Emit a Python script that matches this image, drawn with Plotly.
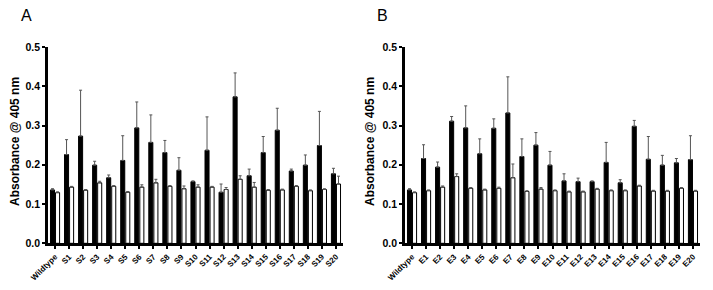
import plotly.graph_objects as go

cats_a = ["Wildtype"] + [f"S{i}" for i in range(1, 21)]
cats_b = ["Wildtype"] + [f"E{i}" for i in range(1, 21)]

a_black = [0.136, 0.226, 0.273, 0.199, 0.167, 0.211, 0.294, 0.257, 0.231, 0.186, 0.157,
           0.237, 0.130, 0.373, 0.172, 0.231, 0.288, 0.184, 0.199, 0.249, 0.177]
a_black_top = [0.139, 0.264, 0.390, 0.209, 0.174, 0.274, 0.360, 0.327, 0.262, 0.218, 0.159,
               0.322, 0.151, 0.434, 0.189, 0.272, 0.344, 0.189, 0.225, 0.336, 0.191]
a_white = [0.129, 0.143, 0.135, 0.154, 0.145, 0.130, 0.143, 0.154, 0.145, 0.139, 0.143,
           0.143, 0.137, 0.163, 0.143, 0.135, 0.136, 0.145, 0.134, 0.137, 0.151]
a_white_top = [0.131, 0.145, 0.137, 0.158, 0.147, 0.132, 0.149, 0.163, 0.147, 0.146, 0.149,
               0.145, 0.142, 0.172, 0.155, 0.137, 0.138, 0.147, 0.136, 0.139, 0.171]

b_black = [0.136, 0.216, 0.194, 0.311, 0.294, 0.228, 0.293, 0.332, 0.221, 0.250, 0.199,
           0.159, 0.157, 0.157, 0.206, 0.154, 0.298, 0.214, 0.199, 0.205, 0.213]
b_black_top = [0.139, 0.251, 0.207, 0.323, 0.350, 0.266, 0.317, 0.424, 0.266, 0.282, 0.234,
               0.177, 0.166, 0.159, 0.257, 0.162, 0.313, 0.272, 0.224, 0.216, 0.274]
b_white = [0.129, 0.134, 0.143, 0.170, 0.140, 0.136, 0.140, 0.167, 0.132, 0.138, 0.134,
           0.131, 0.131, 0.138, 0.134, 0.134, 0.146, 0.133, 0.133, 0.140, 0.133]
b_white_top = [0.131, 0.136, 0.146, 0.177, 0.142, 0.138, 0.143, 0.202, 0.134, 0.142, 0.136,
               0.133, 0.133, 0.140, 0.136, 0.136, 0.148, 0.135, 0.135, 0.142, 0.135]

y_ticks = [0.0, 0.1, 0.2, 0.3, 0.4, 0.5]
y_title = "Absorbance @ 405 nm"
panel_labels = ["A", "B"]

FONT = "Liberation Sans, Arial, sans-serif"
ERR = "#555555"

fig = go.Figure()

def add_pair(cats, blk, blk_top, wht, wht_top, xa, ya):
    fig.add_trace(go.Bar(
        x=cats, y=blk, xaxis=xa, yaxis=ya, offsetgroup=xa + "b",
        marker=dict(color="black", line=dict(color="black", width=1)),
        error_y=dict(type="data", symmetric=False,
                     array=[t - v for t, v in zip(blk_top, blk)],
                     arrayminus=[0] * len(blk),
                     color=ERR, thickness=1, width=1.5),
        showlegend=False))
    fig.add_trace(go.Bar(
        x=cats, y=wht, xaxis=xa, yaxis=ya, offsetgroup=xa + "w",
        marker=dict(color="white", line=dict(color="black", width=1)),
        error_y=dict(type="data", symmetric=False,
                     array=[t - v for t, v in zip(wht_top, wht)],
                     arrayminus=[0] * len(wht),
                     color=ERR, thickness=1, width=1.5),
        showlegend=False))

add_pair(cats_a, a_black, a_black_top, a_white, a_white_top, "x", "y")
add_pair(cats_b, b_black, b_black_top, b_white, b_white_top, "x2", "y2")

W, H = 713, 290
OFF = 8  # page body margin


def px(x):
    return (x - OFF) / W


def py(y):
    return (H - (y - OFF)) / H


yd = [py(243.3), py(47)]

xcommon = dict(showline=True, linewidth=2.5, linecolor="black", ticks="outside",
               ticklen=3, tickwidth=2, tickcolor="black", tickangle=-45,
               tickfont=dict(family=FONT, size=8, color="black", weight=700),
               showgrid=False, zeroline=False, range=[-0.5, 20.5], automargin=False)
ycommon = dict(showline=True, linewidth=2.5, linecolor="black", ticks="outside",
               ticklen=3, tickwidth=2, tickcolor="black", tickvals=y_ticks,
               tickformat=".1f", range=[0, 0.5],
               tickfont=dict(family=FONT, size=10.5, color="black", weight=700),
               showgrid=False, zeroline=False, automargin=False, domain=yd)

fig.update_layout(
    width=W, height=H, margin=dict(l=0, r=0, t=0, b=0),
    plot_bgcolor="white", paper_bgcolor="white",
    barmode="group", bargap=0.28, bargroupgap=0.2,
    xaxis=dict(xcommon, domain=[px(48), px(343)], anchor="y"),
    yaxis=dict(ycommon, anchor="x"),
    xaxis2=dict(xcommon, domain=[px(405), px(700)], anchor="y2"),
    yaxis2=dict(ycommon, anchor="x2"),
    annotations=[
        dict(text=y_title, x=px(15), y=py(142), xref="paper", yref="paper",
             textangle=-90, showarrow=False, xanchor="center", yanchor="middle",
             font=dict(family=FONT, size=12, color="black", weight=700)),
        dict(text=y_title, x=px(370), y=py(142), xref="paper", yref="paper",
             textangle=-90, showarrow=False, xanchor="center", yanchor="middle",
             font=dict(family=FONT, size=12, color="black", weight=700)),
        dict(text=panel_labels[0], x=px(26), y=py(15), xref="paper", yref="paper",
             showarrow=False, xanchor="center", yanchor="middle",
             font=dict(family=FONT, size=16, color="black")),
        dict(text=panel_labels[1], x=px(382), y=py(15), xref="paper", yref="paper",
             showarrow=False, xanchor="center", yanchor="middle",
             font=dict(family=FONT, size=16, color="black")),
    ],
)

fig.write_html("out.html")
